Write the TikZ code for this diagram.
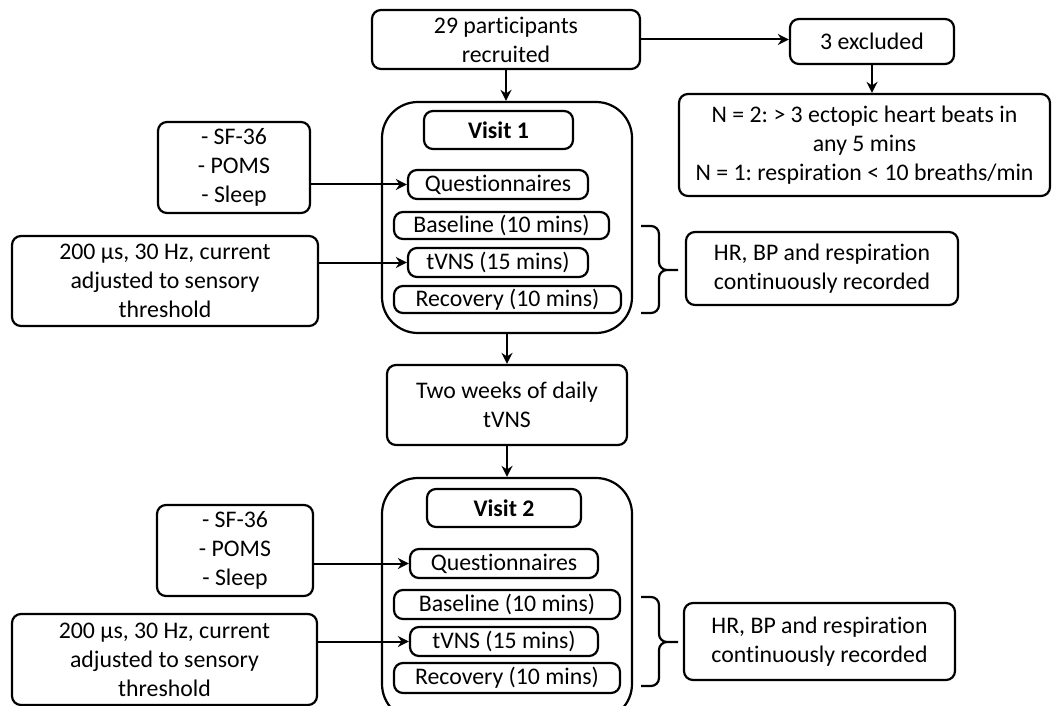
\documentclass[tikz,border=0pt]{standalone}
\usepackage{fontspec}
\setmainfont{Carlito}[Ligatures=CommonOff]
\frenchspacing
\usetikzlibrary{arrows.meta}
\tikzstyle{box} = [draw,rounded corners=9pt,line width=2.2pt,align=center,inner sep=0pt,font=\fontsize{23.8}{29}\selectfont]
\tikzstyle{visit} = [draw,rounded corners=36pt,line width=2.2pt,inner sep=0pt]
\tikzstyle{link} = [line width=2pt,-{Stealth[length=11pt,width=11pt]}]
\tikzstyle{grp} = [line width=2.2pt,rounded corners=8pt]

\begin{document}
\begin{tikzpicture}[x=1pt,y=-1pt]
\useasboundingbox (0,0) rectangle (1053,706);
\clip (0,0) rectangle (1053,706);

\node[box,minimum width=268pt,minimum height=59pt] (recruit) at (506,39.5) {29 participants\\recruited};
\node[box,minimum width=164pt,minimum height=45pt] (excl) at (872,41.5) {3 excluded};
\node[box,minimum width=371pt,minimum height=102pt] (excnote) at (864.5,145) {N = 2: > 3 ectopic heart beats in\\any 5 mins\\N = 1: respiration < 10 breaths/min};

\node[visit,minimum width=250pt,minimum height=231pt] (v1) at (507,217.5) {};
\node[box,minimum width=149pt,minimum height=38pt] (v1title) at (498.5,130) {\bfseries Visit 1};
\node[box,minimum width=180pt,minimum height=29pt] (q1) at (498,184.5) {Questionnaires};
\node[box,minimum width=215pt,minimum height=27pt] (b1) at (501.5,225.5) {Baseline (10 mins)};
\node[box,minimum width=180pt,minimum height=29pt] (t1) at (498,262.5) {tVNS (15 mins)};
\node[box,minimum width=227pt,minimum height=27pt] (r1) at (507.5,299.5) {Recovery (10 mins)};
\node[box,minimum width=152pt,minimum height=91pt] (sf1) at (234,167.5) {- SF-36\\- POMS\\- Sleep};
\node[box,minimum width=306pt,minimum height=90pt] (stim1) at (165,281) {200 µs, 30 Hz, current\\adjusted to sensory\\threshold};
\node[box,minimum width=272pt,minimum height=73pt] (hr1) at (822,268.5) {HR, BP and respiration\\continuously recorded};

\node[box,minimum width=240pt,minimum height=80pt] (two) at (507,405) {Two weeks of daily\\tVNS};

\node[visit,minimum width=250pt,minimum height=242pt] (v2) at (507,599) {};
\node[box,minimum width=154pt,minimum height=38pt] (v2title) at (504,508) {\bfseries Visit 2};
\node[box,minimum width=188pt,minimum height=29pt] (q2) at (504,563.5) {Questionnaires};
\node[box,minimum width=226pt,minimum height=29pt] (b2) at (507,604.5) {Baseline (10 mins)};
\node[box,minimum width=188pt,minimum height=29pt] (t2) at (504,641.5) {tVNS (15 mins)};
\node[box,minimum width=226pt,minimum height=30pt] (r2) at (507,678) {Recovery (10 mins)};
\node[box,minimum width=156pt,minimum height=91pt] (sf2) at (235,550.5) {- SF-36\\- POMS\\- Sleep};
\node[box,minimum width=305pt,minimum height=91pt] (stim2) at (164.5,659.5) {200 µs, 30 Hz, current\\adjusted to sensory\\threshold};
\node[box,minimum width=271pt,minimum height=77pt] (hr2) at (819.5,641.5) {HR, BP and respiration\\continuously recorded};

\draw[link] (recruit.south) -- (recruit.south |- v1.north);
\draw[link] (recruit.east) -- (recruit.east -| excl.west);
\draw[link] (excl.south) -- (excl.south |- excnote.north);
\draw[link] (sf1.east |- q1.west) -- (q1.west);
\draw[link] (stim1.east |- t1.west) -- (t1.west);
\draw[link] (v1.south) -- (two.north);
\draw[link] (two.south) -- (v2.north);
\draw[link] (sf2.east |- q2.west) -- (q2.west);
\draw[link] (stim2.east |- t2.west) -- (t2.west);

\draw[grp] (641,226) -| (659,270) -- (678,270) (641,313) -| (659,270) -- (678,270);
\draw[grp] (641,597) -| (659,642) -- (678,642) (641,686) -| (659,642) -- (678,642);
\end{tikzpicture}
\end{document}
